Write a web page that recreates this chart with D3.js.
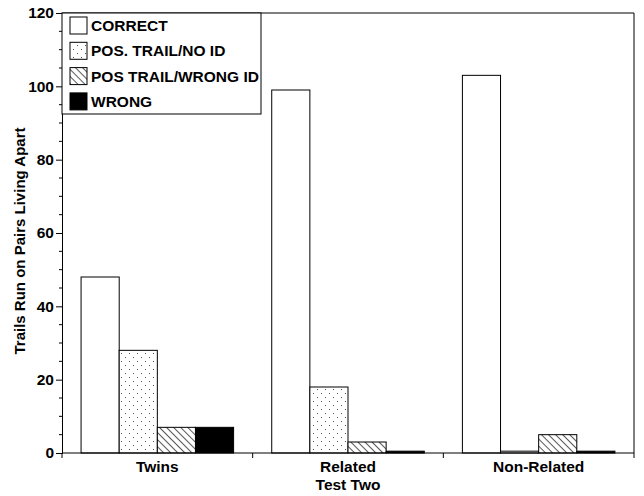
<!DOCTYPE html>
<html><head><meta charset="utf-8">
<script src="https://cdn.jsdelivr.net/npm/d3@7"></script>
<style>body{margin:0;background:#fff}svg{display:block}text{font-family:"Liberation Sans",Arial,sans-serif}</style>
</head><body><svg id="c" width="644" height="496"></svg>
<script>
const categories = ["Twins", "Related", "Non-Related"];
const seriesNames = ["CORRECT", "POS. TRAIL/NO ID", "POS TRAIL/WRONG ID", "WRONG"];
const correct = [48, 99, 103];
const posTrailNoId = [28, 18, 0.5];
const posTrailWrongId = [7, 3, 5];
const wrong = [7, 0.5, 0.5];
const yTicks = [0, 20, 40, 60, 80, 100, 120];
const yLabel = "Trails Run on Pairs Living Apart";
const xLabel = "Test Two";

const series = [correct, posTrailNoId, posTrailWrongId, wrong];
const fills = ["#fff", "url(#dots)", "url(#hatch)", "#000"];

const svg = d3.select("#c");
const m = {l: 62, r: 10, t: 13, b: 43};
const W = 644, H = 496;
const x = d3.scaleBand().domain(categories).range([m.l, W - m.r]).paddingInner(0).paddingOuter(0);
const x1 = d3.scaleBand().domain(d3.range(4)).range([0, x.bandwidth()]).paddingOuter(0.5).paddingInner(0);
const y = d3.scaleLinear().domain([0, 120]).range([H - m.b, m.t]);

const defs = svg.append("defs");
const dp = defs.append("pattern").attr("id", "dots").attr("patternUnits", "userSpaceOnUse").attr("width", 8).attr("height", 8);
dp.append("rect").attr("width", 8).attr("height", 8).attr("fill", "#fff");
dp.append("rect").attr("x", 1).attr("y", 1).attr("width", 1).attr("height", 1).attr("fill", "#555");
dp.append("rect").attr("x", 5).attr("y", 5).attr("width", 1).attr("height", 1).attr("fill", "#555");
const hp = defs.append("pattern").attr("id", "hatch").attr("patternUnits", "userSpaceOnUse").attr("width", 5).attr("height", 5).attr("patternTransform", "rotate(-45)");
hp.append("rect").attr("width", 5).attr("height", 5).attr("fill", "#fff");
hp.append("line").attr("x1", 0).attr("y1", 0).attr("x2", 0).attr("y2", 5).attr("stroke", "#000").attr("stroke-width", 1.3);

// bars
categories.forEach((c, ci) => {
  series.forEach((s, si) => {
    svg.append("rect")
      .attr("x", x(c) + x1(si))
      .attr("y", y(s[ci]))
      .attr("width", x1.bandwidth())
      .attr("height", y(0) - y(s[ci]))
      .attr("fill", fills[si])
      .attr("stroke", "#000").attr("stroke-width", 1);
  });
});

// frame top & right
svg.append("line").attr("x1", m.l).attr("x2", W - m.r).attr("y1", y(120)).attr("y2", y(120)).attr("stroke", "#000");
svg.append("line").attr("x1", W - m.r).attr("x2", W - m.r).attr("y1", y(120)).attr("y2", y(0)).attr("stroke", "#000");

// y axis
const ya = svg.append("g").attr("transform", `translate(${m.l},0)`)
  .call(d3.axisLeft(y).tickValues(yTicks).tickSize(6).tickPadding(2));
ya.select(".domain").attr("stroke", "#000");
ya.selectAll("text").attr("font-size", 15.5).attr("font-weight", "bold").attr("fill", "#000").style("font-family", "'Liberation Sans',Arial");
const minor = d3.range(0, 121, 5).filter(v => v % 20 !== 0);
ya.selectAll(".minor").data(minor).enter().append("line").attr("class", "minor")
  .attr("x1", -3).attr("x2", 0).attr("y1", d => y(d)).attr("y2", d => y(d)).attr("stroke", "#000");

// x axis
const xa = svg.append("g").attr("transform", `translate(0,${y(0)})`);
xa.append("line").attr("x1", m.l).attr("x2", W - m.r).attr("stroke", "#000");
const bounds = categories.map(c => x(c)).concat([x(categories[2]) + x.bandwidth()]);
xa.selectAll(".tk").data(bounds).enter().append("line")
  .attr("x1", d => d).attr("x2", d => d).attr("y1", 0).attr("y2", 5).attr("stroke", "#000");
xa.selectAll(".lbl").data(categories).enter().append("text")
  .attr("x", c => x(c) + x.bandwidth() / 2).attr("y", 19)
  .attr("text-anchor", "middle").attr("font-size", 15.5).attr("font-weight", "bold").text(c => c);

svg.append("text").attr("x", x("Related") + x.bandwidth() / 2).attr("y", 490)
  .attr("text-anchor", "middle").attr("font-size", 15.5).attr("font-weight", "bold").text(xLabel);
svg.append("text").attr("transform", `translate(25,${(y(0) + y(120)) / 2 + 8}) rotate(-90)`)
  .attr("text-anchor", "middle").attr("font-size", 15).attr("font-weight", "bold").text(yLabel);

// legend
const lg = svg.append("g");
lg.append("rect").attr("x", m.l).attr("y", y(120)).attr("width", 199).attr("height", 101).attr("fill", "#fff").attr("stroke", "#000");
seriesNames.forEach((n, i) => {
  const yy = y(120) + 4 + i * 25.3;
  lg.append("rect").attr("x", 70).attr("y", yy).attr("width", 17).attr("height", 17)
    .attr("fill", fills[i]).attr("stroke", "#000");
  lg.append("text").attr("x", 91).attr("y", yy + 14).attr("font-size", 15.5).attr("font-weight", "bold").text(n);
});
</script></body></html>
